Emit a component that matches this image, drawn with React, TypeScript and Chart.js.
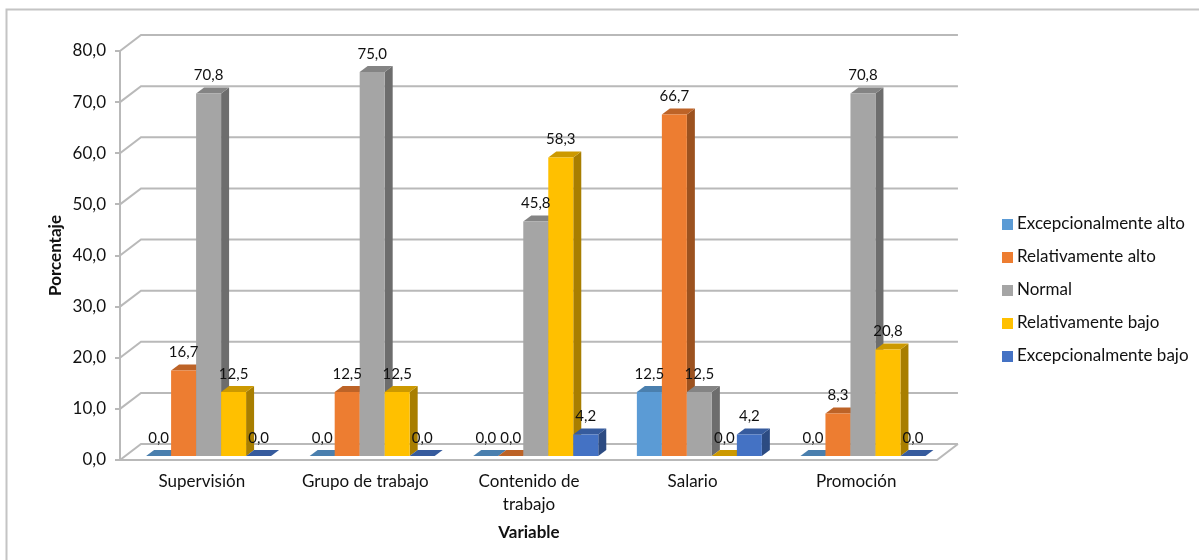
import React, { useEffect, useRef } from "react";
import { Chart, registerables } from "chart.js";

Chart.register(...registerables);

const categories = ["Supervisión", "Grupo de trabajo", ["Contenido de", "trabajo"], "Salario", "Promoción"];
const excepcionalmenteAlto = [0, 0, 0, 12.5, 0];
const relativamenteAlto = [16.7, 12.5, 0, 66.7, 8.3];
const normal = [70.8, 75, 45.8, 12.5, 70.8];
const relativamenteBajo = [12.5, 12.5, 58.3, 0, 20.8];
const excepcionalmenteBajo = [0, 0, 4.2, 4.2, 0];

const FONT = "Lato";
const INK = "#111111";
const GRID = "#b9b9b9";
const DEPTH_X = 21;
const DEPTH_Y = 16;
const BAR_DX = 8;
const BAR_DY = 6;
const BAR_SHIFT = 6.8;

const palette = [
  { front: "#5b9bd5", side: "#3d6c96", top: "#4a7fae" },
  { front: "#ed7d31", side: "#9c521f", top: "#bd6327" },
  { front: "#a5a5a5", side: "#6d6d6d", top: "#848484" },
  { front: "#ffc000", side: "#a87e00", top: "#cc9900" },
  { front: "#4472c4", side: "#2c4b82", top: "#365b9d" },
];

const decimal = (v: number) => v.toFixed(1).replace(".", ",");

function swatch(color: string) {
  const c = document.createElement("canvas");
  c.width = 11;
  c.height = 11;
  const g = c.getContext("2d")!;
  g.fillStyle = color;
  g.fillRect(0, 0, 11, 11);
  return c;
}

function poly(ctx: CanvasRenderingContext2D, pts: number[][], fill: string) {
  ctx.beginPath();
  pts.forEach(([x, y], i) => (i ? ctx.lineTo(x, y) : ctx.moveTo(x, y)));
  ctx.closePath();
  ctx.fillStyle = fill;
  ctx.fill();
}

// Frame, back wall grid, side wall and floor of the 3D plot box.
const roomPlugin = {
  id: "room",
  beforeDraw(chart: any) {
    const { ctx, chartArea, scales } = chart;
    const { left, right, bottom } = chartArea;
    const y = scales.y;
    ctx.save();
    ctx.fillStyle = "#ffffff";
    ctx.fillRect(0, 0, chart.width, chart.height);
    ctx.strokeStyle = "#c4c4c4";
    ctx.lineWidth = 2;
    ctx.strokeRect(6.5, 9.5, chart.width + 10, chart.height + 10);
    ctx.strokeStyle = GRID;
    ctx.lineWidth = 2;
    for (const tick of y.ticks) {
      const py = y.getPixelForValue(tick.value);
      ctx.beginPath();
      ctx.moveTo(left, py);
      ctx.lineTo(left + DEPTH_X, py - DEPTH_Y);
      ctx.lineTo(right + DEPTH_X - 1, py - DEPTH_Y);
      ctx.stroke();
    }
    ctx.beginPath();
    ctx.moveTo(left, bottom);
    ctx.lineTo(right - 1, bottom);
    ctx.lineTo(right + DEPTH_X - 1, bottom - DEPTH_Y);
    ctx.stroke();
    ctx.restore();
  },
  afterLayout(chart: any) {
    const legend = chart.legend;
    legend.left = 990.5;
    legend.right = 1199;
    legend.top = 199.5;
    legend.bottom = 400;
  },
};

// Draws each bar's side and top faces, then its front through the bar element.
const prismPlugin = {
  id: "prism",
  beforeDatasetsDraw(chart: any) {
    const { ctx } = chart;
    ctx.save();
    ctx.translate(BAR_SHIFT, 0);
    const count = chart.data.labels.length;
    for (let c = 0; c < count; c++) {
      chart.data.datasets.forEach((_: any, d: number) => {
        const bar = chart.getDatasetMeta(d).data[c];
        const l = bar.x - bar.width / 2;
        const r = bar.x + bar.width / 2;
        const colors = palette[d];
        poly(ctx, [[r, bar.base], [r + BAR_DX, bar.base - BAR_DY], [r + BAR_DX, bar.y - BAR_DY], [r, bar.y]], colors.side);
        poly(ctx, [[l, bar.y], [l + BAR_DX, bar.y - BAR_DY], [r + BAR_DX, bar.y - BAR_DY], [r, bar.y]], colors.top);
        bar.draw(ctx);
      });
    }
    ctx.restore();
    return false;
  },
  afterDraw(chart: any) {
    const { ctx } = chart;
    ctx.save();
    ctx.font = `15px ${FONT}`;
    ctx.fillStyle = INK;
    ctx.textAlign = "center";
    ctx.textBaseline = "middle";
    chart.data.datasets.forEach((set: any, d: number) => {
      chart.getDatasetMeta(d).data.forEach((bar: any, c: number) => {
        ctx.fillText(decimal(set.data[c]), bar.x + BAR_SHIFT, bar.y - 18);
      });
    });
    ctx.restore();
  },
};

export default function App() {
  const ref = useRef<HTMLCanvasElement>(null);

  useEffect(() => {
    document.body.style.margin = "0";
    const chart = new Chart(ref.current!, {
      type: "bar",
      plugins: [roomPlugin, prismPlugin],
      data: {
        labels: categories as any,
        datasets: [
          { label: "Excepcionalmente alto", data: excepcionalmenteAlto, backgroundColor: palette[0].front },
          { label: "Relativamente alto", data: relativamenteAlto, backgroundColor: palette[1].front },
          { label: "Normal", data: normal, backgroundColor: palette[2].front },
          { label: "Relativamente bajo", data: relativamenteBajo, backgroundColor: palette[3].front },
          { label: "Excepcionalmente bajo", data: excepcionalmenteBajo, backgroundColor: palette[4].front },
        ].map((set) => ({ ...set, yAxisID: "bars", barPercentage: 1, categoryPercentage: 125 / 163.6 })),
      },
      options: {
        animation: false,
        responsive: false,
        layout: { padding: { top: 51, right: 53, left: 0, bottom: 0 } },
        scales: {
          x: {
            grid: { display: false, drawTicks: false },
            border: { display: false },
            ticks: { color: INK, font: { family: FONT, size: 17, lineHeight: 1.35 }, maxRotation: 0, padding: 10, autoSkip: false },
            title: { display: true, text: "Variable", color: INK, padding: { top: 0, bottom: 17 }, font: { family: FONT, size: 17, weight: "bold" } },
            afterFit(s: any) {
              s.height = 100;
            },
          },
          y: {
            min: 0,
            max: 80,
            ticks: { stepSize: 10, color: INK, padding: 9, font: { family: FONT, size: 17 }, callback: (v: any) => decimal(Number(v)) },
            grid: { drawOnChartArea: false, drawTicks: true, tickLength: 5, color: GRID, lineWidth: 2 },
            border: { color: GRID, width: 2 },
            title: { display: true, text: "Porcentaje", color: INK, padding: { top: 45, bottom: 0 }, font: { family: FONT, size: 17, weight: "bold" } },
            afterFit(s: any) {
              s.width = 120;
            },
          },
          // Bars stand slightly inside the floor, so they use their own value range.
          bars: { display: false, min: -0.78, max: 79.1 },
        },
        plugins: {
          tooltip: { enabled: false },
          legend: {
            position: "right",
            align: "start",
            labels: {
              color: INK,
              font: { family: FONT, size: 17 },
              padding: 16,
              usePointStyle: true,
              pointStyleWidth: 2,
              generateLabels(c: any) {
                return Chart.defaults.plugins.legend.labels.generateLabels(c).map((item: any, i: number) => ({
                  ...item,
                  pointStyle: swatch(palette[i].front),
                }));
              },
            },
          },
        },
      } as any,
    } as any);
    return () => chart.destroy();
  }, []);

  return <canvas ref={ref} width={1199} height={560} style={{ display: "block" }} />;
}
